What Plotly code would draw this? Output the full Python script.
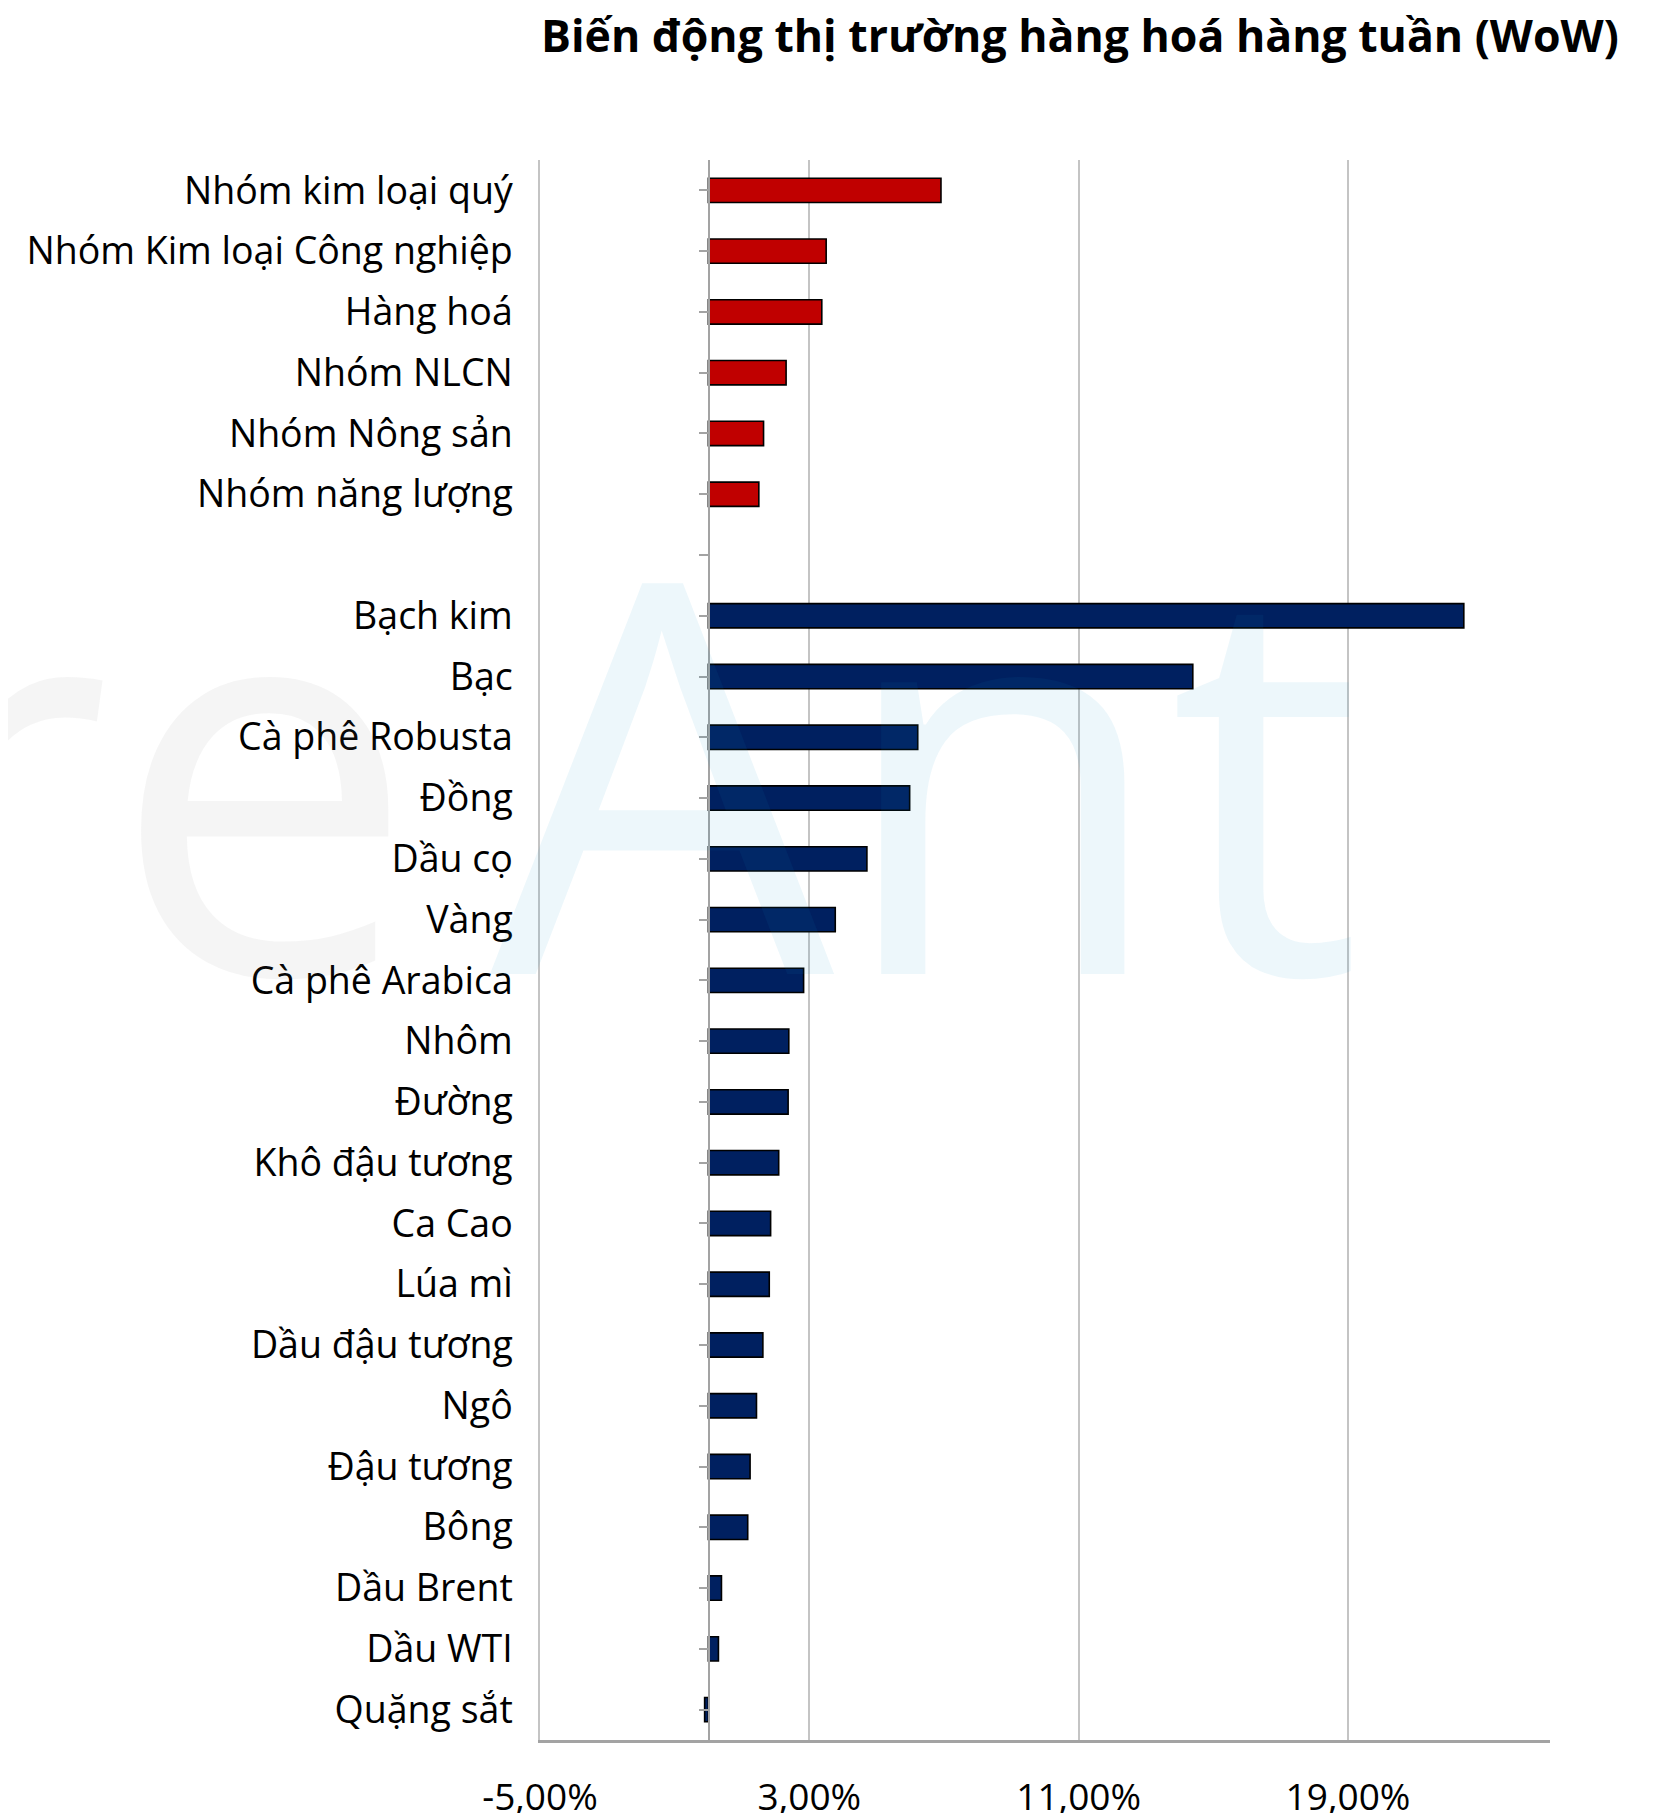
import plotly.graph_objects as go

# ---- data ----
group_names = ["Nhóm kim loại quý", "Nhóm Kim loại Công nghiệp", "Hàng hoá",
               "Nhóm NLCN", "Nhóm Nông sản", "Nhóm năng lượng"]
group_values = [6.91, 3.50, 3.37, 2.31, 1.64, 1.50]

item_names = ["Bạch kim", "Bạc", "Cà phê Robusta", "Đồng", "Dầu cọ", "Vàng",
              "Cà phê Arabica", "Nhôm", "Đường", "Khô đậu tương", "Ca Cao",
              "Lúa mì", "Dầu đậu tương", "Ngô", "Đậu tương", "Bông",
              "Dầu Brent", "Dầu WTI", "Quặng sắt"]
item_values = [22.44, 14.39, 6.22, 5.98, 4.71, 3.77, 2.83, 2.39, 2.37, 2.09,
               1.85, 1.81, 1.62, 1.43, 1.24, 1.17, 0.39, 0.30, -0.11]

gap_name = " "
categories = group_names + [gap_name] + item_names

x_tick_vals = [-5, 3, 11, 19]
x_tick_text = ["-5,00%", "3,00%", "11,00%", "19,00%"]

title_text = "Biến động thị trường hàng hoá hàng tuần (WoW)"

# ---- layout geometry (figure pixels; page has an 8px body margin) ----
W, H = 1668, 1813
PL, PR, PT, PB = 532, 1542, 152, 1732


def px(x):
    return (x - PL) / (PR - PL)


def py(y):
    return (PB - y) / (PB - PT)


FONT = "Open Sans"

fig = go.Figure()

fig.add_trace(go.Bar(
    y=group_names, x=group_values, orientation="h",
    marker=dict(color="#C00000", line=dict(color="#000000", width=1.6)),
    width=0.4, hoverinfo="x+y", showlegend=False,
))
fig.add_trace(go.Bar(
    y=item_names, x=item_values, orientation="h",
    marker=dict(color="#002060", line=dict(color="#000000", width=1.6)),
    width=0.4, hoverinfo="x+y", showlegend=False,
))
# invisible helpers so every category (incl. the gap) exists on both axes
fig.add_trace(go.Scatter(
    y=categories, x=[0] * len(categories), mode="markers",
    marker=dict(size=1, opacity=0), hoverinfo="skip", showlegend=False,
))
fig.add_trace(go.Scatter(
    y=categories, x=[0] * len(categories), mode="markers", yaxis="y2",
    marker=dict(size=1, opacity=0), hoverinfo="skip", showlegend=False,
))

yr = [len(categories) - 0.5, -0.5]

fig.update_layout(
    width=W, height=H,
    margin=dict(l=PL, r=W - PR, t=PT, b=H - PB, autoexpand=False),
    paper_bgcolor="white", plot_bgcolor="white",
    barmode="overlay",
    font=dict(family=FONT, color="#000000"),
    xaxis=dict(
        range=[-5, 25], tickvals=x_tick_vals, ticktext=x_tick_text,
        showgrid=True, gridcolor="#c4c4c4", gridwidth=1.5,
        zeroline=False, showline=True, linecolor="#a3a3a3", linewidth=3,
        ticks="", tickfont=dict(family=FONT, size=37, color="#000000"),
        ticklabelstandoff=23, automargin=False, fixedrange=True,
    ),
    yaxis=dict(
        type="category", categoryorder="array", categoryarray=categories,
        range=yr, showgrid=False, zeroline=False,
        showline=True, linecolor="#c4c4c4", linewidth=1.5,
        ticks="", tickfont=dict(family=FONT, size=37.5, color="#000000"),
        ticklabelstandoff=18, automargin=False, fixedrange=True,
    ),
    yaxis2=dict(
        type="category", categoryorder="array", categoryarray=categories,
        range=yr, overlaying="y", anchor="free", position=px(700.75),
        side="left", showgrid=False, zeroline=False,
        showline=True, linecolor="#a3a3a3", linewidth=2,
        ticks="outside", ticklen=9, tickwidth=2, tickcolor="#a3a3a3",
        showticklabels=False, automargin=False, fixedrange=True,
    ),
    annotations=[
        dict(text="<b>" + title_text + "</b>", xref="paper", yref="paper",
             x=px(1613), y=py(26), xanchor="right", yanchor="middle",
             showarrow=False, font=dict(family=FONT, size=44.6, color="#000000")),
        dict(text="re", xref="paper", yref="paper",
             x=px(411), y=py(754), xanchor="right", yanchor="middle",
             showarrow=False,
             font=dict(family=FONT, size=545, color="rgba(110,110,110,0.07)")),
        dict(text="Ant", xref="paper", yref="paper",
             x=px(480), y=py(754), xanchor="left", yanchor="middle",
             showarrow=False,
             font=dict(family=FONT, size=545, color="rgba(12,141,198,0.075)")),
    ],
)

fig.write_html("out.html")
